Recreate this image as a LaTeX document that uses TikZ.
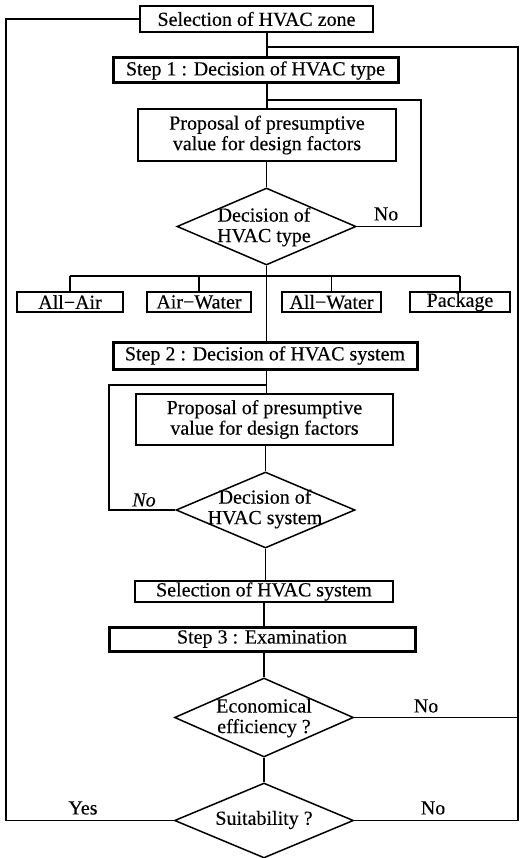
\documentclass[tikz,border=0pt]{standalone}
\usepackage{fontspec}
\setmainfont{Liberation Serif}[FakeBold=0.25]
\usetikzlibrary{shapes.geometric}
\begin{document}
\begin{tikzpicture}[x=1pt,y=-1pt,
  every node/.style={font=\fontsize{20}{20.5}\selectfont},
  line/.style={line width=1.5pt},
  box/.style={draw,line width=1.5pt,rectangle,inner sep=0pt,align=center},
  stepbox/.style={draw,line width=3pt,rectangle,inner sep=0pt,align=center},
  dia/.style={draw,line width=1.5pt,diamond,inner sep=0pt,minimum width=179pt},
  txt/.style={inner sep=0pt,align=center}]
\useasboundingbox (0,0) rectangle (521,858);

% boxes
\node[box,minimum width=233pt,minimum height=26pt] (zone) at (256.5,19) {Selection of HVAC zone};
\node[stepbox,minimum width=285pt,minimum height=25pt] (step1) at (255.5,70.5) {Step 1 : Decision of HVAC type};
\node[box,minimum width=258pt,minimum height=52pt] (prop1) at (267,135) {Proposal of presumptive\\value for design factors};
\node[dia,minimum height=77pt] (d1) at (266.5,226.5) {};
\node[txt] (d1t) at (264,227) {Decision of\\HVAC type};

\node[box,minimum width=106pt,minimum height=20pt] (allair) at (70,302) {All^^^^2212Air};
\node[box,minimum width=104pt,minimum height=20pt] (airwater) at (199,302) {Air^^^^2212Water};
\node[box,minimum width=99pt,minimum height=20pt] (allwater) at (331.5,302) {All^^^^2212Water};
\node[box,minimum width=100pt,minimum height=20pt] (package) at (460,302) {Package};

\node[stepbox,minimum width=304pt,minimum height=27pt] (step2) at (265,355.5) {Step 2 : Decision of HVAC system};
\node[box,minimum width=257pt,minimum height=51pt] (prop2) at (264.5,419.5) {Proposal of presumptive\\value for design factors};
\node[dia,minimum height=76pt] (d2) at (265.5,510) {};
\node[txt] (d2t) at (265,509) {Decision of\\HVAC system};

\node[box,minimum width=258pt,minimum height=21pt] (selsys) at (264,591.5) {Selection of HVAC system};
\node[stepbox,minimum width=306pt,minimum height=24pt] (step3) at (262,639) {Step 3 : Examination};
\node[dia,minimum height=79pt] (d3) at (264,717.5) {};
\node[txt] (d3t) at (264,718) {Economical\\efficiency ?};
\node[dia,minimum height=75pt] (d4) at (264,820.5) {};
\node[txt] (d4t) at (264,820) {Suitability ?};

% labels
\node[txt] (no1) at (386,214) {No};
\node[txt] (no2) at (144,500) {\itshape No};
\node[txt] (no3) at (426,706) {No};
\node[txt] (yes4) at (83,808) {Yes};
\node[txt] (no4) at (433,808) {No};

% loop coordinates
\coordinate (lt) at (6,19);
\coordinate (lb) at (6,820.5);
\coordinate (rt) at (518,47);
\coordinate (rb) at (518,820.5);
\coordinate (s1r) at (421,100);
\coordinate (s2l) at (109,385);
\coordinate (bus) at (266.5,276);

% spine
\draw[line] (prop1.north |- zone.south) -- (prop1.north |- step1.north);
\draw[line] (prop1.north |- step1.south) -- (prop1.north);
\draw[line] (prop1.south -| d1.north) -- (d1.north);
\draw[line] (d1.south) -- (d1.south |- step2.north);
\draw[line] (d1.south |- step2.south) -- (d1.south |- prop2.north);
\draw[line] (prop2.south -| d2.north) -- (d2.north);
\draw[line] (d2.south) -- (d2.south |- selsys.north);
\draw[line] (selsys.south -| d3.north) -- (step3.north -| d3.north);
\draw[line] (step3.south -| d3.north) -- (d3.north);
\draw[line] (d3.south) -- (d4.north);

% bus
\draw[line] (allair.north |- bus) -- (package.north |- bus);
\draw[line] (allair.north |- bus) -- (allair.north);
\draw[line] (airwater.north |- bus) -- (airwater.north);
\draw[line] (allwater.north |- bus) -- (allwater.north);
\draw[line] (package.north |- bus) -- (package.north);

% step 1 loop
\draw[line] (prop1.north |- s1r) -- (s1r) |- (d1.east);
% step 2 loop
\draw[line] (d1.south |- s2l) -- (s2l) |- (d2.west);

% outer loops
\draw[line] (zone.west) -- (lt) -- (lb) -- (d4.west);
\draw[line] (prop1.north |- rt) -- (rt) -- (rb) -- (d4.east);
\draw[line] (d3.east) -- (d3.east -| rt);
\end{tikzpicture}
\end{document}
